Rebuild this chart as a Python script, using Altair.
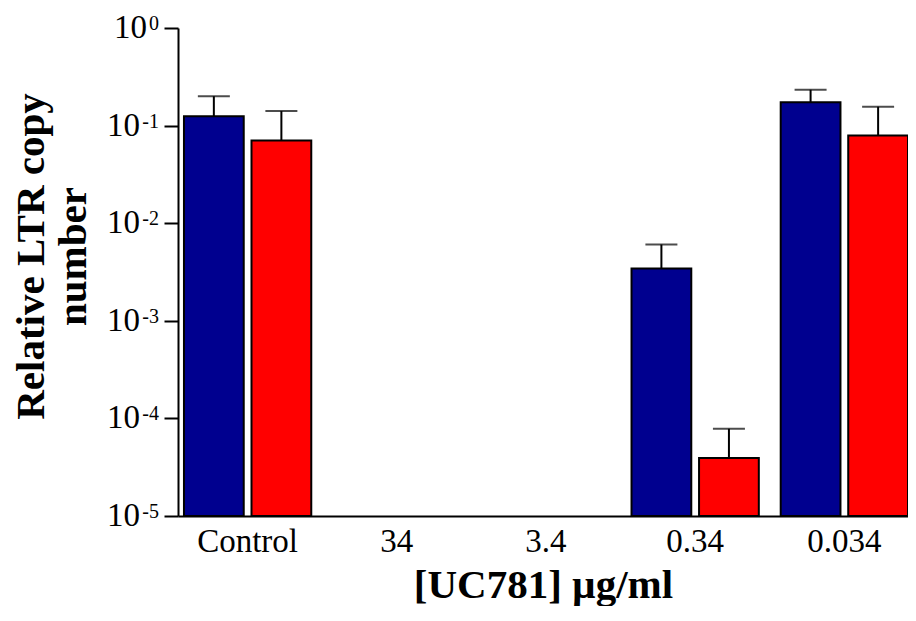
import altair as alt
import pandas as pd

# ---- data ----
categories = ["Control", "34", "3.4", "0.34", "0.034"]
series = ["A", "B"]
series_colors = ["#00008F", "#FF0000"]

blue_values = [0.125, None, None, 0.00344, 0.173]
blue_upper = [0.200, None, None, 0.00605, 0.233]
red_values = [0.0705, None, None, 0.0000394, 0.079]
red_upper = [0.141, None, None, 0.0000783, 0.156]

y_tick_values = [1e-5, 1e-4, 1e-3, 1e-2, 1e-1, 1]
y_tick_base = ["10", "10", "10", "10", "10", "10"]
y_tick_exponents = ["-5", "-4", "-3", "-2", "-1", "0"]

rows = []
for s, vals, ups in [("A", blue_values, blue_upper), ("B", red_values, red_upper)]:
    for c, v, u in zip(categories, vals, ups):
        if v is not None:
            rows.append({"cat": c, "series": s, "value": v, "upper": u})
df = pd.DataFrame(rows)

ticks_df = pd.DataFrame({"tick": y_tick_values, "base": y_tick_base, "exp": y_tick_exponents})

W, H = 730, 488
FONT = "Liberation Serif"

y_axis = alt.Axis(
    values=y_tick_values,
    labels=False,
    tickSize=14,
    tickWidth=2,
    domainWidth=2,
    title=["Relative LTR copy", "number"],
    titleFontSize=41,
    titleFontWeight="bold",
    titleAngle=270,
    titleAlign="center",
    titleBaseline="alphabetic",
    titleX=-135,
    titleY=228,
    titleLineHeight=42,
)
x_axis = alt.Axis(
    labelAngle=0,
    ticks=False,
    tickSize=0,
    domainWidth=2,
    labelFontSize=33,
    labelBaseline="alphabetic",
    labelPadding=35,
    title="[UC781] µg/ml",
    titleFontSize=41,
    titleFontWeight="bold",
    titleBaseline="alphabetic",
    titleY=81,
)

x_enc = alt.X(
    "cat:N",
    scale=alt.Scale(domain=categories, paddingInner=0.1467, paddingOuter=0.02, align=1),
    axis=x_axis,
)
xo_enc = alt.XOffset("series:N", scale=alt.Scale(domain=series, paddingInner=0.115, paddingOuter=0))
y_scale = alt.Scale(type="log", domain=[1e-5, 1])

base = alt.Chart(df)

bars = base.mark_bar(stroke="black", strokeWidth=2).encode(
    x=x_enc,
    xOffset=xo_enc,
    y=alt.Y("value:Q", scale=y_scale, axis=y_axis),
    y2=alt.datum(1e-5),
    color=alt.Color("series:N", scale=alt.Scale(domain=series, range=series_colors), legend=None),
)

err = base.mark_rule(color="black", strokeWidth=2).encode(
    x=x_enc,
    xOffset=xo_enc,
    y=alt.Y("value:Q", scale=y_scale, axis=y_axis),
    y2="upper:Q",
)

caps = base.mark_tick(color="black", size=32, thickness=2).encode(
    x=x_enc,
    xOffset=xo_enc,
    y=alt.Y("upper:Q", scale=y_scale, axis=y_axis),
)

tick_base = alt.Chart(ticks_df)

lab_neg = tick_base.transform_filter("datum.exp != '0'").mark_text(
    align="right", baseline="alphabetic", fontSize=33, font=FONT, color="black", dy=10
).encode(
    x=alt.value(-38),
    y=alt.Y("tick:Q", scale=y_scale, axis=y_axis),
    text="base:N",
)
lab_zero = tick_base.transform_filter("datum.exp == '0'").mark_text(
    align="right", baseline="alphabetic", fontSize=33, font=FONT, color="black", dy=10
).encode(
    x=alt.value(-31),
    y=alt.Y("tick:Q", scale=y_scale, axis=y_axis),
    text="base:N",
)
lab_exp = tick_base.mark_text(
    align="right", baseline="alphabetic", fontSize=20, font=FONT, color="black", dy=2
).encode(
    x=alt.value(-19),
    y=alt.Y("tick:Q", scale=y_scale, axis=y_axis),
    text="exp:N",
)

chart = (
    alt.layer(err, bars, caps, lab_neg, lab_zero, lab_exp)
    .properties(
        width=W,
        height=H,
        autosize=alt.AutoSizeParams(type="none"),
        padding={"left": 170, "top": 20, "right": 0, "bottom": 90},
    )
    .configure_view(stroke=None)
    .configure_axis(
        grid=False,
        labelFont=FONT,
        titleFont=FONT,
        labelColor="black",
        titleColor="black",
        domainColor="black",
        tickColor="black",
    )
)

chart.save("out.html", embed_options={"renderer": "svg", "actions": False})
